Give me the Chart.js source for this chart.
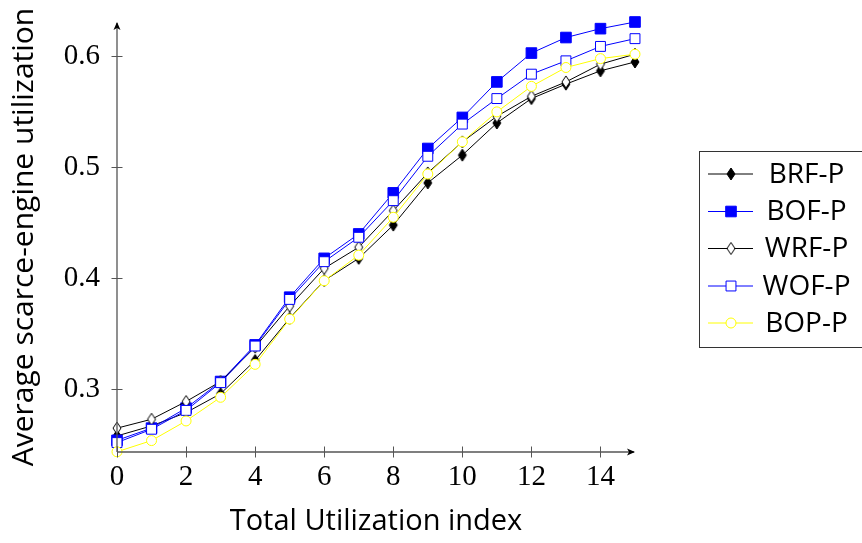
<!DOCTYPE html>
<html>
<head>
<meta charset="utf-8">
<script src="https://cdn.jsdelivr.net/npm/chart.js@4"></script>
<style>
  html, body { margin: 0; padding: 0; background: #fff; }
  canvas { display: block; }
</style>
</head>
<body>
<canvas id="myChart" width="862" height="543"></canvas>
<script>
// Data
const xValues = [0, 1, 2, 3, 4, 5, 6, 7, 8, 9, 10, 11, 12, 13, 14, 15];
const brfP = [0.258, 0.267, 0.279, 0.296, 0.326, 0.364, 0.398, 0.418, 0.448, 0.486, 0.511, 0.540, 0.562, 0.575, 0.587, 0.595];
const bofP = [0.254, 0.265, 0.283, 0.307, 0.340, 0.383, 0.418, 0.440, 0.477, 0.517, 0.545, 0.577, 0.603, 0.617, 0.625, 0.631];
const wrfP = [0.265, 0.273, 0.289, 0.307, 0.338, 0.375, 0.409, 0.428, 0.461, 0.495, 0.523, 0.546, 0.564, 0.577, 0.593, 0.602];
const wofP = [0.252, 0.264, 0.281, 0.306, 0.339, 0.381, 0.415, 0.437, 0.470, 0.510, 0.539, 0.562, 0.584, 0.596, 0.609, 0.616];
const bopP = [0.2437, 0.2538, 0.2715, 0.2928, 0.3225, 0.3633, 0.3978, 0.4209, 0.455, 0.494, 0.523, 0.550, 0.573, 0.590, 0.598, 0.602];
const seriesNames = ['BRF-P', 'BOF-P', 'WRF-P', 'WOF-P', 'BOP-P'];
const xTicks = [0, 2, 4, 6, 8, 10, 12, 14];
const yTicks = [0.3, 0.4, 0.5, 0.6];

const toPoints = (ys) => ys.map((y, i) => ({ x: xValues[i], y: y }));

// pgfplots-like tall diamond marker
function makeDiamond(fill) {
  const c = document.createElement('canvas');
  c.width = 12; c.height = 16;
  const g = c.getContext('2d');
  g.beginPath();
  g.moveTo(6, 2); g.lineTo(10, 8); g.lineTo(6, 14); g.lineTo(2, 8);
  g.closePath();
  g.fillStyle = fill;
  g.fill();
  g.strokeStyle = '#000';
  g.lineWidth = 1;
  g.stroke();
  return c;
}
const diamondFilled = makeDiamond('#000');
const diamondOpen = makeDiamond('#fff');

const AXIS_COLOR = '#555';

// axis lines, crossing ticks, arrow heads, legend box
const axesPlugin = {
  id: 'axesPlugin',
  afterDraw(chart) {
    const ctx = chart.ctx;
    const xs = chart.scales.x, ys = chart.scales.y;
    const left = xs.left, right = xs.right, top = ys.top, bottom = ys.bottom;
    ctx.save();
    ctx.strokeStyle = AXIS_COLOR;
    ctx.lineWidth = 1.3;
    ctx.beginPath();
    ctx.moveTo(left, bottom); ctx.lineTo(right - 1, bottom);
    ctx.moveTo(left, bottom); ctx.lineTo(left, top + 1);
    ctx.stroke();
    ctx.lineWidth = 1;
    ctx.beginPath();
    xTicks.forEach(v => {
      const px = Math.round(xs.getPixelForValue(v)) + 0.5;
      ctx.moveTo(px, bottom - 5.5); ctx.lineTo(px, bottom + 5.5);
    });
    yTicks.forEach(v => {
      const py = Math.round(ys.getPixelForValue(v)) + 0.5;
      ctx.moveTo(left - 5.5, py); ctx.lineTo(left + 5.5, py);
    });
    ctx.stroke();
    // arrow heads
    ctx.fillStyle = '#000';
    ctx.beginPath();
    ctx.moveTo(right, bottom);
    ctx.lineTo(right - 8, bottom - 3.5);
    ctx.lineTo(right - 6, bottom);
    ctx.lineTo(right - 8, bottom + 3.5);
    ctx.closePath();
    ctx.fill();
    ctx.beginPath();
    ctx.moveTo(left, top);
    ctx.lineTo(left - 3.5, top + 8);
    ctx.lineTo(left, top + 6);
    ctx.lineTo(left + 3.5, top + 8);
    ctx.closePath();
    ctx.fill();

    // legend
    const boxL = 699.5, boxT = 151.5, boxR = 870, boxB = 347.5;
    ctx.strokeStyle = '#333';
    ctx.lineWidth = 1;
    ctx.strokeRect(boxL, boxT, boxR - boxL, boxB - boxT);
    const rowY = [174, 211.5, 248.5, 286, 323];
    chart.data.datasets.forEach((ds, i) => {
      const y = rowY[i];
      ctx.strokeStyle = ds.borderColor;
      ctx.lineWidth = 1;
      ctx.beginPath();
      ctx.moveTo(708, y); ctx.lineTo(753, y);
      ctx.stroke();
      const mx = 731;
      const st = ds.pointStyle;
      if (st instanceof HTMLCanvasElement) {
        ctx.drawImage(st, mx - st.width / 2, y - st.height / 2);
      } else {
        ctx.fillStyle = ds.pointBackgroundColor;
        ctx.strokeStyle = ds.pointBorderColor;
        ctx.beginPath();
        if (st === 'rect') {
          const s = Math.SQRT1_2 * ds.pointRadius;
          ctx.rect(mx - s, y - s, 2 * s, 2 * s);
        } else {
          ctx.arc(mx, y, ds.pointRadius, 0, Math.PI * 2);
        }
        ctx.fill();
        ctx.stroke();
      }
      ctx.fillStyle = '#000';
      ctx.font = '28px "Open Sans"';
      ctx.textAlign = 'center';
      ctx.textBaseline = 'middle';
      ctx.fillText(ds.label, 806.5, y + 1);
    });
    ctx.restore();
  }
};

const ctx = document.getElementById('myChart');

new Chart(ctx, {
  type: 'line',
  data: {
    datasets: [
      {
        label: seriesNames[0], data: toPoints(brfP), order: 5,
        borderColor: '#000', pointStyle: diamondFilled, pointRadius: 6,
        pointBackgroundColor: '#000', pointBorderColor: '#000'
      },
      {
        label: seriesNames[1], data: toPoints(bofP), order: 4,
        borderColor: '#0000ff', pointStyle: 'rect', pointRadius: 7.5,
        pointBackgroundColor: '#0000ff', pointBorderColor: '#0000ff'
      },
      {
        label: seriesNames[2], data: toPoints(wrfP), order: 3,
        borderColor: '#000', pointStyle: diamondOpen, pointRadius: 6,
        pointBackgroundColor: '#fff', pointBorderColor: '#000'
      },
      {
        label: seriesNames[3], data: toPoints(wofP), order: 2,
        borderColor: '#0000ff', pointStyle: 'rect', pointRadius: 7,
        pointBackgroundColor: '#fff', pointBorderColor: '#0000ff'
      },
      {
        label: seriesNames[4], data: toPoints(bopP), order: 1,
        borderColor: '#ffff00', pointStyle: 'circle', pointRadius: 5,
        pointBackgroundColor: '#fff', pointBorderColor: '#ffff00'
      }
    ].map(ds => Object.assign(ds, {
      borderWidth: 1, pointBorderWidth: 1, tension: 0, fill: false, clip: false,
      pointHoverRadius: ds.pointRadius
    }))
  },
  options: {
    responsive: false,
    animation: false,
    events: [],
    layout: { padding: { left: 0, top: 22, right: 227, bottom: 0 } },
    plugins: {
      legend: { display: false },
      tooltip: { enabled: false }
    },
    scales: {
      x: {
        type: 'linear', min: 0, max: 15,
        afterFit: (s) => { s.height = 91; s.paddingLeft = 0; s.paddingRight = 0; },
        afterBuildTicks: (s) => { s.ticks = xTicks.map(v => ({ value: v })); },
        grid: { display: false, drawTicks: false },
        border: { display: false },
        ticks: {
          color: '#000', padding: 8,
          font: { family: '"Liberation Serif"', size: 29 }
        },
        title: {
          display: true, text: 'Total Utilization index', color: '#000',
          font: { family: '"Open Sans"', size: 29 },
          padding: { top: 0, bottom: 4 }
        }
      },
      y: {
        type: 'linear', min: 0.2435, max: 0.631,
        afterFit: (s) => { s.width = 117; s.paddingTop = 0; s.paddingBottom = 0; },
        afterBuildTicks: (s) => { s.ticks = yTicks.map(v => ({ value: v })); },
        grid: { display: false, drawTicks: false },
        border: { display: false },
        ticks: {
          color: '#000', padding: 17,
          font: { family: '"Liberation Serif"', size: 29 },
          callback: (v) => v.toFixed(1)
        },
        title: {
          display: true, text: 'Average scarce-engine utilization', color: '#000',
          font: { family: '"Open Sans"', size: 30 },
          padding: { top: 6, bottom: 0 }
        }
      }
    }
  },
  plugins: [axesPlugin]
});
</script>
</body>
</html>
